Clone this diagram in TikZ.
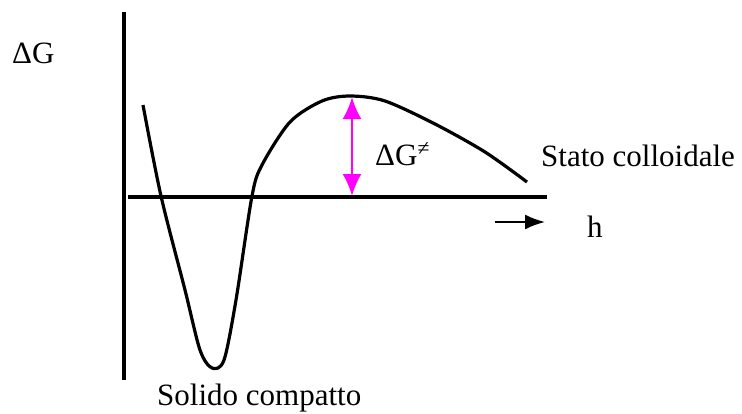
\documentclass[tikz,border=0pt]{standalone}
\usepackage{fontspec}
\setmainfont{Liberation Serif}
\usetikzlibrary{arrows.meta}
\definecolor{gapmagenta}{RGB}{255,0,255}
\begin{document}
\begin{tikzpicture}[x=1pt,y=-1pt, nodes={inner sep=0pt,font=\fontsize{31}{36}\selectfont}, axis/.style={line width=3.2pt}, curve/.style={line width=3.2pt,line join=round}, gap/.style={gapmagenta,line width=2.4pt,{Latex[length=22pt,width=19pt]}-{Latex[length=22pt,width=19pt]}}]
\useasboundingbox (0,0) rectangle (742,413);
% axes
\coordinate (ytop) at (124,12);
\coordinate (ybot) at (124,380);
\coordinate (xleft) at (128,197);
\coordinate (xright) at (547,197);
\draw[axis] (ytop) -- (ybot);
\draw[axis] (xleft) -- (xright);
% energy curve
\draw[curve] plot[smooth,tension=0.5] coordinates {(143,105) (161,196) (185,290) (200,350) (212,368) (224,360) (236,300) (252,196) (262,165) (290,122) (322,101) (350,96) (385,101) (435,124) (485,152) (527,182)};
% barrier
\coordinate (peak) at (352,97);
\coordinate (base) at (352,196);
\draw[gap] (peak) -- (base);
\node[anchor=base west] (barrier) at (375,165) {ΔG\textsuperscript{≠}};
% labels
\node[anchor=base west] (dg) at (12,63) {ΔG};
\node[anchor=base west] (colloid) at (541,166) {Stato colloidale};
\node[anchor=base west] (solid) at (157,405) {Solido compatto};
\node[anchor=base west] (h) at (587,237) {h};
\coordinate (hstart) at (495,222);
\coordinate (hend) at (545,222);
\draw[line width=2pt,-{Latex[length=20pt,width=15pt]}] (hstart) -- (hend);
\end{tikzpicture}
\end{document}
